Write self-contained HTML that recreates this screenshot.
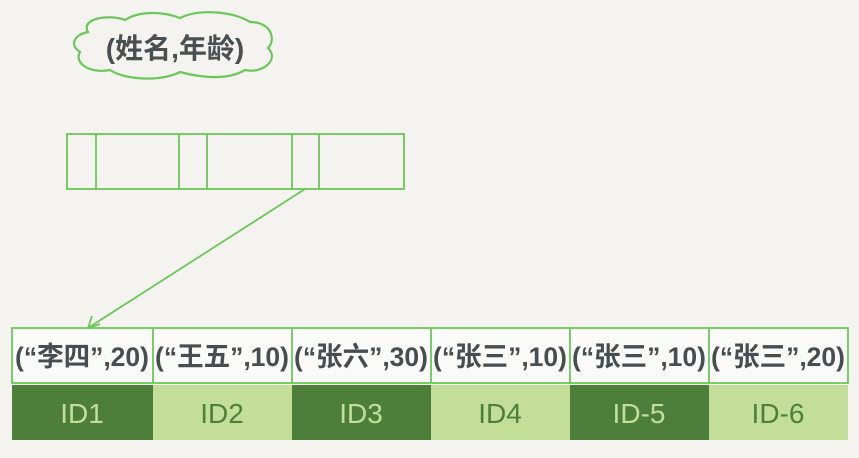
<!DOCTYPE html>
<html><head><meta charset="utf-8"><style>
body{margin:0;width:859px;height:453px;background:#f4f3ef;overflow:hidden}
text{font-family:"Liberation Sans","Noto Sans CJK SC",sans-serif}
</style></head><body>
<svg width="859" height="453" xmlns="http://www.w3.org/2000/svg">
<path d="M88,32 C80,18 110,14 125,20 C140,10 165,12 180,18 C200,8 235,12 250,22 C272,22 276,40 268,48 C280,60 262,74 245,70 C225,82 195,76 180,72 C160,82 125,80 110,70 C88,74 74,62 80,52 C68,44 76,34 88,32 Z" fill="#f4f3ef" stroke="#6cc65a" stroke-width="2.2"/>
<text x="175" y="58" font-size="28" font-weight="bold" fill="#4a4f52" text-anchor="middle">(姓名,年龄)</text>
<g fill="none" stroke="#6cc65a" stroke-width="1.8">
<rect x="67" y="134" width="337" height="55"/>
<path d="M96,134V189M179,134V189M207,134V189M292,134V189M319,134V189"/>
<path d="M305,189L88,328M88,328L92,316M88,328L100,324"/>
</g>
<rect x="12" y="328" width="836" height="55" fill="#fafaf8" stroke="#6cc65a" stroke-width="1.8"/>
<g stroke="#6cc65a" stroke-width="1.8"><path d="M153,328V383M292,328V383M431,328V383M570,328V383M709,328V383"/></g>
<g font-size="27" font-weight="bold" fill="#474d50" text-anchor="middle" textLength="134">
<text x="82" y="366" textLength="134" lengthAdjust="spacingAndGlyphs">(“李四”,20)</text>
<text x="222" y="366" textLength="134" lengthAdjust="spacingAndGlyphs">(“王五”,10)</text>
<text x="361" y="366" textLength="134" lengthAdjust="spacingAndGlyphs">(“张六”,30)</text>
<text x="500" y="366" textLength="134" lengthAdjust="spacingAndGlyphs">(“张三”,10)</text>
<text x="639" y="366" textLength="134" lengthAdjust="spacingAndGlyphs">(“张三”,10)</text>
<text x="778" y="366" textLength="134" lengthAdjust="spacingAndGlyphs">(“张三”,20)</text>
</g>
<rect x="12" y="385" width="141" height="55" fill="#4e7f3a"/>
<rect x="153" y="385" width="139" height="55" fill="#c2de98"/>
<rect x="292" y="385" width="139" height="55" fill="#4e7f3a"/>
<rect x="431" y="385" width="139" height="55" fill="#c2de98"/>
<rect x="570" y="385" width="139" height="55" fill="#4e7f3a"/>
<rect x="709" y="385" width="139" height="55" fill="#c2de98"/>
<g font-size="28" text-anchor="middle">
<text x="82" y="423" fill="#c2de98">ID1</text>
<text x="222" y="423" fill="#4e7f3a">ID2</text>
<text x="361" y="423" fill="#c2de98">ID3</text>
<text x="500" y="423" fill="#4e7f3a">ID4</text>
<text x="639" y="423" fill="#c2de98">ID-5</text>
<text x="778" y="423" fill="#4e7f3a">ID-6</text>
</g>
</svg>
</body></html>
